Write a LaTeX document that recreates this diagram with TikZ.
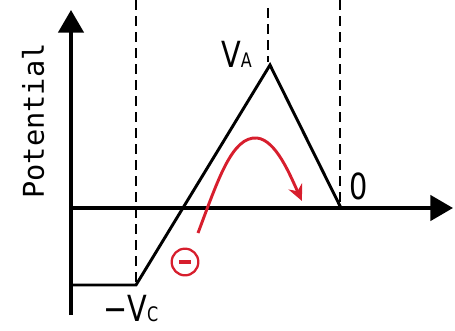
\documentclass[tikz,border=0pt]{standalone}
\usepackage{fontspec}
\setmainfont{DejaVu Sans}
\setmonofont{DejaVu Sans Mono}
\usetikzlibrary{arrows.meta}
\definecolor{elecred}{RGB}{215,30,45}

\begin{document}
\begin{tikzpicture}[x=0.75pt,y=-0.75pt,
  axis/.style={line width=2.7pt,-{Triangle[length=17pt,width=19pt]}},
  guide/.style={line width=1.6pt,dash pattern=on 7.5pt off 4.5pt},
  lbl/.style={inner sep=0pt,xscale=0.8,font=\fontsize{27}{28}\selectfont},
  path/.style={elecred,line width=2.2pt,-{Stealth[length=12pt,width=11pt]}}]
\useasboundingbox (0,0) rectangle (455,330);
% axes
\coordinate (o) at (71,208);
\coordinate (ybot) at (71,315);
\coordinate (ytop) at (71,10);
\coordinate (xend) at (453,208);
\draw[axis] (ybot)--(ytop);
\draw[axis] (o)--(xend);
% potential profile
\coordinate (c0) at (71,285);
\coordinate (c1) at (136,285);
\coordinate (pk) at (270,65);
\coordinate (z) at (341,208);
\draw[line width=2.2pt,line join=miter] (c0)--(c1)--(pk)--(z);
\draw[guide] (136,0)--(c1);
\draw[guide] (268,8)--(268,62);
\draw[guide] (340,0)--(340,204);
% labels
\node[lbl,anchor=base west] (va) at (221,67) {V{\fontsize{15}{15}\selectfont A}};
\node[lbl,anchor=base west] (vc) at (103,321) {−V{\fontsize{15}{15}\selectfont C}};
\node[lbl,anchor=base west] (zero) at (349,199) {0};
\node[inner sep=0pt,rotate=90,font=\ttfamily\fontsize{21.5}{22}\selectfont] (pot) at (33,121) {Potential};
% electron
\node[circle,draw=elecred,line width=1.7pt,minimum size=20pt,inner sep=0pt] (e) at (185,262) {};
\draw[elecred,line width=2.4pt] ([xshift=-4.5pt]e.center)--([xshift=4.5pt]e.center);
\coordinate (s) at (198,233);
\coordinate (top) at (257,138);
\coordinate (t) at (302,201);
\draw[path] (s) .. controls (218,180) and (232,136) .. (top)
  .. controls (276,140) and (290,175) .. (t);
\end{tikzpicture}
\end{document}
